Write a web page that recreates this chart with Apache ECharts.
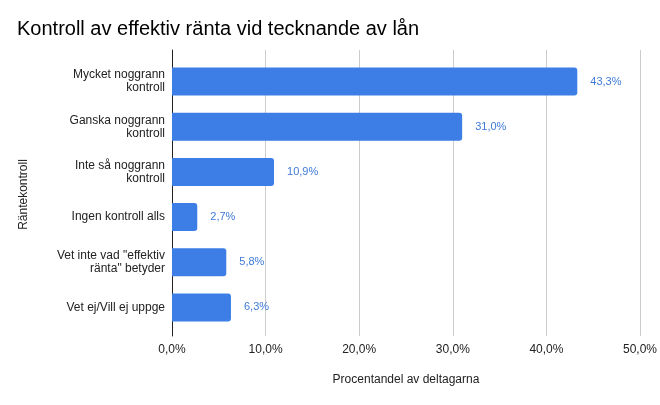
<!DOCTYPE html>
<html>
<head>
<meta charset="utf-8">
<script src="https://cdn.jsdelivr.net/npm/echarts@6/dist/echarts.min.js"></script>
<style>
html,body{margin:0;padding:0;background:#fff;}
#c{width:660px;height:405px;}
</style>
</head>
<body>
<div id="c"></div>
<script>
var categories = [
  "Mycket noggrann\nkontroll",
  "Ganska noggrann\nkontroll",
  "Inte så noggrann\nkontroll",
  "Ingen kontroll alls",
  "Vet inte vad \"effektiv\nränta\" betyder",
  "Vet ej/Vill ej uppge"
];
var values = [43.3, 31.0, 10.9, 2.7, 5.8, 6.3];
var xTicks = [0, 10, 20, 30, 40, 50];

var FONT = '"Liberation Sans", Arial, sans-serif';
var chart = echarts.init(document.getElementById('c'), null, {renderer: 'canvas'});
chart.setOption({
  animation: false,
  backgroundColor: '#ffffff',
  title: {
    text: 'Kontroll av effektiv ränta vid tecknande av lån',
    left: 12, top: 14,
    textStyle: {fontFamily: FONT, fontSize: 20, fontWeight: 'normal', color: '#000'}
  },
  grid: [
    {left: 172, right: 20, top: 59, bottom: 75},
    {left: 172, right: 20, top: 50, bottom: 69}
  ],
  xAxis: [
    {gridIndex: 0, type: 'value', min: xTicks[0], max: xTicks[xTicks.length-1], interval: 10,
     axisLine: {show: false}, axisTick: {show: false}, axisLabel: {show: false}, splitLine: {show: false}},
    {gridIndex: 1, type: 'value', min: xTicks[0], max: xTicks[xTicks.length-1], interval: 10,
     axisLine: {show: false}, axisTick: {show: false},
     axisLabel: {fontFamily: FONT, fontSize: 12, color: '#222', margin: 8,
       formatter: function(v){ return v.toFixed(1).replace('.', ',') + '%'; }},
     splitLine: {show: true, lineStyle: {color: '#cccccc', width: 1}},
     name: 'Procentandel av deltagarna', nameLocation: 'middle', nameGap: 38,
     nameTextStyle: {fontFamily: FONT, fontSize: 12, color: '#222'}}
  ],
  yAxis: [
    {gridIndex: 0, type: 'category', data: categories, inverse: true,
     axisLine: {show: false}, axisTick: {show: false},
     axisLabel: {fontFamily: FONT, fontSize: 12, color: '#222', margin: 7, lineHeight: 13, align: 'right'},
     name: 'Räntekontroll', nameLocation: 'middle', nameGap: 142, nameRotate: 90,
     nameTextStyle: {fontFamily: FONT, fontSize: 12, color: '#222'}},
    {gridIndex: 1, type: 'value', min: 0, max: 1,
     axisLine: {show: true, onZero: false, lineStyle: {color: '#222', width: 1}},
     axisTick: {show: false}, axisLabel: {show: false}, splitLine: {show: false}}
  ],
  series: [{
    type: 'bar',
    xAxisIndex: 0, yAxisIndex: 0,
    data: values,
    barWidth: 28,
    itemStyle: {color: '#3c7ee6', borderRadius: [0, 3, 3, 0]},
    label: {show: true, position: 'right', distance: 13,
      fontFamily: FONT, fontSize: 11, color: '#3f7ad9',
      formatter: function(p){ return p.value.toFixed(1).replace('.', ',') + '%'; }},
    z: 3
  }]
});
</script>
</body>
</html>
